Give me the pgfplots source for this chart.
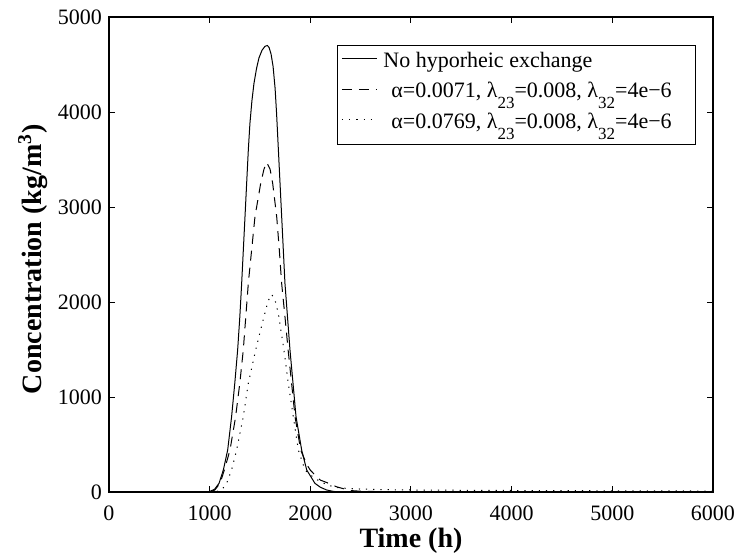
\documentclass[border=0pt]{standalone}
\usepackage{fontspec}
\setmainfont{Liberation Serif}
\usepackage{pgfplots}
\pgfplotsset{compat=1.18}
\newcommand{\sub}[1]{\raisebox{-5.5pt}[0pt][0pt]{\fontsize{8.5}{9}\selectfont #1}}
\begin{document}
\begin{tikzpicture}
\useasboundingbox (-54.5pt,-30.5pt) rectangle (313.5pt,246pt);
\begin{axis}[
  at={(0,0)}, anchor=south west,
  width=302pt, height=237.5pt, scale only axis,
  xmin=0, xmax=6000, ymin=0, ymax=5000,
  xtick={0,1000,...,6000}, ytick={0,1000,...,5000},
  scaled ticks=false,
  /pgf/number format/1000 sep={},
  /pgf/number format/assume math mode=true,
  tick align=inside, tick pos=both,
  major tick length=3pt,
  axis line style={line width=0.6pt},
  every tick/.style={black, line width=0.5pt},
  ticklabel style={font=\fontsize{11}{13}\selectfont},
  xticklabel style={yshift=-3.2pt},
  every axis x label/.style={at={(axis description cs:0.5,-0.103)}, anchor=center},
  every axis y label/.style={at={(axis description cs:-0.1258,0.49)}, rotate=90, anchor=center},
  label style={font=\fontsize{14}{16}\selectfont\bfseries},
  xlabel={Time (h)},
  ylabel={Concentration (kg/m\textsuperscript{3})},
  legend style={at={(0.972,0.941)}, anchor=north east, draw=black, fill=white,
    font=\fontsize{11}{13}\selectfont, row sep=0pt, column sep=0pt,
    inner xsep=2pt, inner ysep=1.6pt,
    nodes={inner xsep=3pt, inner ysep=2.2pt, text height=7pt, text depth=4pt}},
  legend cell align=left,
  legend image code/.code={\draw[#1] (0pt,2.9pt) -- (17.5pt,2.9pt);},
]
\addplot[black, line width=0.5pt] coordinates {
(0,0) (900,0) (1000,5) (1050,30) (1093,91) (1136,232) (1179,442) (1218,793)
(1250,1150) (1278,1495) (1300,1850) (1318,2197) (1351,2898) (1384,3600)
(1400,3880) (1420,4120) (1440,4300) (1466,4460) (1490,4570) (1520,4650)
(1550,4692) (1573,4700) (1590,4680) (1610,4610) (1630,4480) (1650,4250)
(1665,3980) (1680,3660) (1700,3230) (1720,2800) (1748,2197) (1798,1495)
(1858,793) (1914,442) (1964,232) (2046,91) (2100,50) (2162,21) (2230,6) (2295,0) (6000,0)
};
\addlegendentry{No hyporheic exchange}
\addplot[black, line width=0.5pt, dash pattern=on 5pt off 3.5pt] coordinates {
(0,0) (1000,0) (1050,20) (1103,91) (1146,232) (1202,442) (1258,793)
(1300,1150) (1334,1495) (1384,2197) (1450,2898) (1507,3249) (1540,3400)
(1566,3470) (1600,3400) (1626,3249) (1666,2898) (1692,2547) (1715,2197)
(1748,1846) (1780,1490) (1814,1144) (1848,793) (1904,442) (1964,290)
(2000,230) (2063,160) (2100,125) (2162,100) (2260,55) (2328,35) (2400,15)
(2500,8) (2650,5) (2700,0) (6000,0)
};
\addlegendentry{\hspace{4pt}α=0.0071, λ\sub{23}=0.008, λ\sub{32}=4e−6\rule{7pt}{0pt}}
\addplot[black, line width=0.5pt, dash pattern=on 0.6pt off 3pt] coordinates {
(0,0) (1050,0) (1085,10) (1119,21) (1169,91) (1218,232) (1268,442)
(1334,793) (1384,1144) (1457,1495) (1500,1680) (1540,1846) (1580,2010)
(1616,2080) (1650,2020) (1682,1880) (1738,1495) (1781,1144) (1831,793)
(1881,442) (1947,232) (2000,180) (2050,140) (2100,110) (2179,70)
(2278,45) (2400,35) (2527,30) (2858,22) (3500,18) (4500,14) (6000,10)
};
\addlegendentry{\hspace{4pt}α=0.0769, λ\sub{23}=0.008, λ\sub{32}=4e−6\rule{7pt}{0pt}}
\end{axis}
\end{tikzpicture}
\end{document}
